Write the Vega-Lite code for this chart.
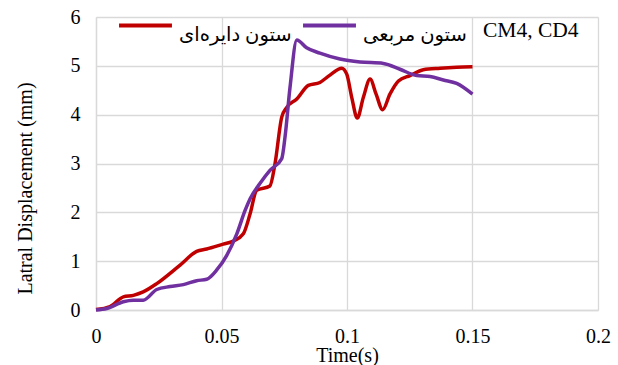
{
  "$schema": "https://vega.github.io/schema/vega-lite/v6.json",
  "width": 502,
  "height": 293,
  "autosize": {"type": "none"},
  "padding": {"left": 96, "top": 17, "right": 20, "bottom": 55},
  "background": "white",
  "title": {"text": "CM4, CD4", "anchor": "end", "orient": "top", "offset": -66, "dx": -32, "font": "Liberation Serif", "fontSize": 21.5, "fontWeight": "normal", "color": "black", "baseline": "bottom"},
  "config": {
    "view": {"stroke": null},
    "font": "Liberation Serif"
  },
  "data": {"values": [
    {"s": "ستون دایره‌ای", "t": 0, "v": 0.01},
    {"s": "ستون دایره‌ای", "t": 0.0056, "v": 0.07},
    {"s": "ستون دایره‌ای", "t": 0.0109, "v": 0.27},
    {"s": "ستون دایره‌ای", "t": 0.0149, "v": 0.3},
    {"s": "ستون دایره‌ای", "t": 0.0188, "v": 0.37},
    {"s": "ستون دایره‌ای", "t": 0.0242, "v": 0.54},
    {"s": "ستون دایره‌ای", "t": 0.0335, "v": 0.92},
    {"s": "ستون دایره‌ای", "t": 0.0401, "v": 1.2},
    {"s": "ستون دایره‌ای", "t": 0.0441, "v": 1.25},
    {"s": "ستون دایره‌ای", "t": 0.0507, "v": 1.35},
    {"s": "ستون دایره‌ای", "t": 0.0547, "v": 1.41},
    {"s": "ستون دایره‌ای", "t": 0.0587, "v": 1.56},
    {"s": "ستون دایره‌ای", "t": 0.0614, "v": 1.97},
    {"s": "ستون دایره‌ای", "t": 0.064, "v": 2.45},
    {"s": "ستون دایره‌ای", "t": 0.0693, "v": 2.54},
    {"s": "ستون دایره‌ای", "t": 0.0713, "v": 2.99},
    {"s": "ستون دایره‌ای", "t": 0.074, "v": 3.95},
    {"s": "ستون دایره‌ای", "t": 0.076, "v": 4.15},
    {"s": "ستون دایره‌ای", "t": 0.08, "v": 4.32},
    {"s": "ستون دایره‌ای", "t": 0.0846, "v": 4.6},
    {"s": "ستون دایره‌ای", "t": 0.0892, "v": 4.66},
    {"s": "ستون دایره‌ای", "t": 0.0932, "v": 4.81},
    {"s": "ستون دایره‌ای", "t": 0.0979, "v": 4.95},
    {"s": "ستون دایره‌ای", "t": 0.0999, "v": 4.83},
    {"s": "ستون دایره‌ای", "t": 0.1019, "v": 4.35},
    {"s": "ستون دایره‌ای", "t": 0.1041, "v": 3.93},
    {"s": "ستون دایره‌ای", "t": 0.1065, "v": 4.35},
    {"s": "ستون دایره‌ای", "t": 0.1092, "v": 4.73},
    {"s": "ستون دایره‌ای", "t": 0.1116, "v": 4.42},
    {"s": "ستون دایره‌ای", "t": 0.1142, "v": 4.1},
    {"s": "ستون دایره‌ای", "t": 0.1171, "v": 4.42},
    {"s": "ستون دایره‌ای", "t": 0.1205, "v": 4.69},
    {"s": "ستون دایره‌ای", "t": 0.1251, "v": 4.8},
    {"s": "ستون دایره‌ای", "t": 0.1304, "v": 4.92},
    {"s": "ستون دایره‌ای", "t": 0.1371, "v": 4.95},
    {"s": "ستون دایره‌ای", "t": 0.1437, "v": 4.97},
    {"s": "ستون دایره‌ای", "t": 0.15, "v": 4.98},
    {"s": "ستون مربعی", "t": 0, "v": 0},
    {"s": "ستون مربعی", "t": 0.0043, "v": 0.03},
    {"s": "ستون مربعی", "t": 0.0109, "v": 0.17},
    {"s": "ستون مربعی", "t": 0.0149, "v": 0.2},
    {"s": "ستون مربعی", "t": 0.0188, "v": 0.2},
    {"s": "ستون مربعی", "t": 0.0242, "v": 0.42},
    {"s": "ستون مربعی", "t": 0.0295, "v": 0.48},
    {"s": "ستون مربعی", "t": 0.0348, "v": 0.52},
    {"s": "ستون مربعی", "t": 0.0401, "v": 0.6},
    {"s": "ستون مربعی", "t": 0.0441, "v": 0.63},
    {"s": "ستون مربعی", "t": 0.0481, "v": 0.82},
    {"s": "ستون مربعی", "t": 0.0521, "v": 1.12},
    {"s": "ستون مربعی", "t": 0.0561, "v": 1.56},
    {"s": "ستون مربعی", "t": 0.0594, "v": 2.04},
    {"s": "ستون مربعی", "t": 0.0614, "v": 2.28},
    {"s": "ستون مربعی", "t": 0.0653, "v": 2.59},
    {"s": "ستون مربعی", "t": 0.0693, "v": 2.86},
    {"s": "ستون مربعی", "t": 0.074, "v": 3.1},
    {"s": "ستون مربعی", "t": 0.0753, "v": 3.54},
    {"s": "ستون مربعی", "t": 0.0773, "v": 4.56},
    {"s": "ستون مربعی", "t": 0.08, "v": 5.53},
    {"s": "ستون مربعی", "t": 0.0839, "v": 5.37},
    {"s": "ستون مربعی", "t": 0.0892, "v": 5.26},
    {"s": "ستون مربعی", "t": 0.0972, "v": 5.14},
    {"s": "ستون مربعی", "t": 0.1052, "v": 5.08},
    {"s": "ستون مربعی", "t": 0.1145, "v": 5.05},
    {"s": "ستون مربعی", "t": 0.1211, "v": 4.93},
    {"s": "ستون مربعی", "t": 0.1278, "v": 4.8},
    {"s": "ستون مربعی", "t": 0.1331, "v": 4.78},
    {"s": "ستون مربعی", "t": 0.1384, "v": 4.71},
    {"s": "ستون مربعی", "t": 0.1437, "v": 4.64},
    {"s": "ستون مربعی", "t": 0.15, "v": 4.42}
  ]},
  "mark": {"type": "line", "interpolate": "monotone", "strokeWidth": 3.5},
  "encoding": {
    "x": {
      "field": "t", "type": "quantitative",
      "scale": {"domain": [0, 0.2], "nice": false},
      "axis": {
        "values": [0, 0.05, 0.1, 0.15, 0.2],
        "format": "~g",
        "title": "Time(s)",
        "grid": true, "gridColor": "#d9d9d9", "gridWidth": 1.3,
        "domainColor": "#d9d9d9", "domainWidth": 1.3,
        "ticks": false,
        "labelFlush": false,
        "labelFont": "Liberation Serif", "labelFontSize": 20, "labelColor": "black",
        "labelPadding": 16,
        "titleFont": "Liberation Serif", "titleFontSize": 20, "titleFontWeight": "normal", "titleColor": "black",
        "titlePadding": -1
      }
    },
    "y": {
      "field": "v", "type": "quantitative",
      "scale": {"domain": [0, 6], "nice": false},
      "axis": {
        "values": [0, 1, 2, 3, 4, 5, 6],
        "title": "Latral Displacement (mm)",
        "grid": true, "gridColor": "#d9d9d9", "gridWidth": 1.3,
        "domainColor": "#d9d9d9", "domainWidth": 1.3,
        "ticks": false,
        "labelFont": "Liberation Serif", "labelFontSize": 20, "labelColor": "black",
        "labelPadding": 16,
        "titleFont": "Liberation Serif", "titleFontSize": 20, "titleFontWeight": "normal", "titleColor": "black",
        "titleX": -61,
        "titleY": 171
      }
    },
    "color": {
      "field": "s", "type": "nominal",
      "scale": {"domain": ["ستون دایره‌ای", "ستون مربعی"], "range": ["#c00000", "#7030a0"]},
      "legend": {
        "title": null,
        "orient": "none",
        "direction": "horizontal",
        "legendX": 21,
        "legendY": -20,
        "symbolType": "stroke",
        "symbolSize": 2800,
        "symbolStrokeWidth": 4,
        "labelFont": "Liberation Serif, DejaVu Sans",
        "labelFontSize": 19.5,
        "labelColor": "black",
        "labelBaseline": "top",
        "labelLimit": 300,
        "labelOffset": 5,
        "columnPadding": 3
      }
    }
  }
}
